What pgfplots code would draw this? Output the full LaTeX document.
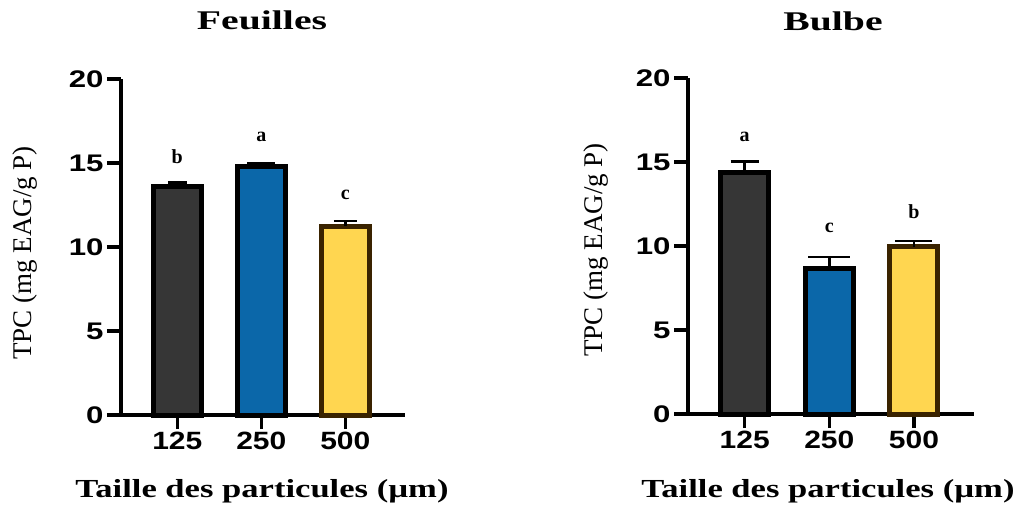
\documentclass[border=0pt]{standalone}
\usepackage{pgfplots}
\pgfplotsset{compat=1.18}
\usepackage{fontspec}
\usepackage{graphicx}
\setmainfont{Liberation Serif}
\newfontfamily\arial{Liberation Sans}
\definecolor{cgray}{HTML}{363636}
\definecolor{cblue}{HTML}{0B67A9}
\definecolor{cyel}{HTML}{FFD650}
\definecolor{cbrown}{HTML}{3A2300}
\tikzset{letter/.style={font=\bfseries\fontsize{20}{20}\selectfont}}
\pgfplotsset{
  mystyle/.style={
    scale only axis, height=336pt,
    xmin=0.33, xmax=3.71, ymin=0, ymax=20,
    axis x line=bottom, axis y line=left,
    axis line style={-, line width=4pt, black},
    ytick={0,5,10,15,20}, xtick={1,2,3},
    xticklabels={\scalebox{1.2}[1]{125},\scalebox{1.2}[1]{250},\scalebox{1.2}[1]{500}},
    tick align=outside, major tick length=14pt,
    tick style={line width=3.5pt, black},
    yticklabel={\scalebox{1.3}[1]{\pgfmathprintnumber[assume math mode=true]{\tick}}},
    yticklabel style={font=\arial\bfseries\fontsize{24}{24}\selectfont},
    xticklabel style={font=\arial\bfseries\fontsize{25}{25}\selectfont},
    ybar, bar width=48pt, bar shift=0pt,
    clip=false,
  },
  mybar/.style n args={3}{fill=#1, draw=#2, line width=5pt,
    error bars/.cd, y dir=plus, y explicit,
    error bar style={line width=2.5pt, black},
    error mark options={rotate=90, line width=2.5pt, mark size=#3, black}},
}
\begin{document}
\begin{tikzpicture}
\useasboundingbox (0,0) rectangle (1021pt,507pt);
% Left panel
\begin{axis}[mystyle, width=284pt, at={(121pt,92pt)}, anchor=south west]
\addplot[mybar={cgray}{black}{9.5pt}] coordinates {(1,13.6) +- (0,0.25)};
\addplot[mybar={cblue}{black}{14pt}] coordinates {(2,14.78) +- (0,0.18)};
\addplot[mybar={cyel}{cbrown}{11.5pt}] coordinates {(3,11.25) +- (0,0.3)};
\node[letter] at (axis cs:1,15.36) {b};
\node[letter] at (axis cs:2,16.55) {a};
\node[letter] at (axis cs:3,13.1) {c};
\end{axis}
% Right panel
\begin{axis}[mystyle, width=286pt, at={(688pt,93pt)}, anchor=south west]
\addplot[mybar={cgray}{black}{14pt}] coordinates {(1,14.4) +- (0,0.62)};
\addplot[mybar={cblue}{black}{21pt}] coordinates {(2,8.68) +- (0,0.68)};
\addplot[mybar={cyel}{cbrown}{18.5pt}] coordinates {(3,9.97) +- (0,0.32)};
\node[letter] at (axis cs:1,16.49) {a};
\node[letter] at (axis cs:2,11.07) {c};
\node[letter] at (axis cs:3,12.04) {b};
\end{axis}
% Titles and labels
\node[anchor=base, font=\bfseries\fontsize{27}{27}\selectfont] at (262pt,477pt) {\scalebox{1.47}[1]{Feuilles}};
\node[anchor=base, font=\bfseries\fontsize{27}{27}\selectfont] at (833pt,476pt) {\scalebox{1.47}[1]{Bulbe}};
\node[rotate=90, font=\fontsize{27}{27}\selectfont] at (25pt,254pt) {TPC (mg EAG/g P)};
\node[rotate=90, font=\fontsize{27}{27}\selectfont] at (596pt,257pt) {TPC (mg EAG/g P)};
\node[anchor=base, font=\bfseries\fontsize{26}{26}\selectfont] at (262pt,10pt) {\scalebox{1.33}[1]{Taille des particules (µm)}};
\node[anchor=base, font=\bfseries\fontsize{26}{26}\selectfont] at (828pt,10pt) {\scalebox{1.33}[1]{Taille des particules (µm)}};
\end{tikzpicture}
\end{document}
